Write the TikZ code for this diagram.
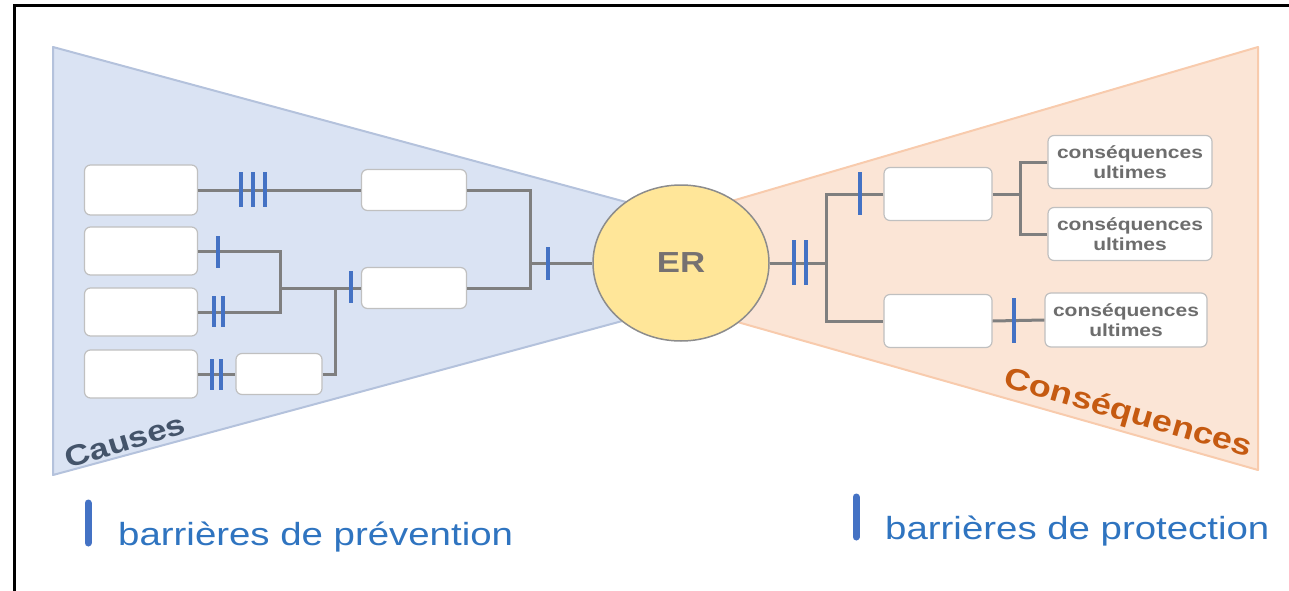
\documentclass[tikz,border=0pt]{standalone}
\usepackage{fontspec}
\setmainfont[FakeStretch=1.2]{Liberation Sans}
\usetikzlibrary{shapes.geometric}
\definecolor{causefill}{HTML}{DAE3F3}
\definecolor{causeline}{HTML}{B4C2DC}
\definecolor{consfill}{HTML}{FBE5D6}
\definecolor{consline}{HTML}{F8CBAD}
\definecolor{erfill}{HTML}{FFE699}
\definecolor{erline}{HTML}{8C8C8C}
\definecolor{boxline}{HTML}{C0C0C0}
\definecolor{connc}{HTML}{7F7F7F}
\definecolor{barc}{HTML}{4472C4}
\definecolor{legc}{HTML}{2F74C0}
\definecolor{causetxt}{HTML}{44546A}
\definecolor{constxt}{HTML}{C55A11}
\definecolor{ertxt}{HTML}{767171}
\definecolor{boxtxt}{HTML}{6D6D6D}
\tikzset{
  box/.style={draw=boxline, fill=white, rounded corners=6pt, line width=1.2pt, inner sep=0pt, align=center,
    font=\bfseries\fontsize{17.5}{20}\selectfont, text=boxtxt},
  conn/.style={draw=connc, line width=3pt},
  barmark/.style={draw=barc, line width=3.5pt},
  legbar/.style={draw=barc, line width=7pt, line cap=round},
  legtext/.style={anchor=base west, text=legc, font=\fontsize{32}{38}\selectfont, inner sep=0pt},
}
\begin{document}
\begin{tikzpicture}[x=1pt,y=-1pt]
\useasboundingbox (0,0) rectangle (1289,591);
% frame
\draw[line width=3pt] (14,591) -- (14,6) -- (1289,6);
% wedges
\filldraw[fill=causefill, draw=causeline, line width=2pt, line join=round] (53,47) -- (700,222) -- (700,300) -- (53,475) -- cycle;
\filldraw[fill=consfill, draw=consline, line width=2pt, line join=round] (1258,47) -- (660,222) -- (660,300) -- (1258,470) -- cycle;
% event
\node[ellipse, draw=erline, line width=1.5pt, fill=erfill, minimum width=176pt, minimum height=156pt, inner sep=0pt,
  font=\bfseries\fontsize{29}{32}\selectfont, text=ertxt] (ER) at (681,263) {ER};
% cause boxes
\node[box, minimum width=113pt, minimum height=50pt] (L1) at (141,190) {};
\node[box, minimum width=113pt, minimum height=48pt] (L2) at (141,251) {};
\node[box, minimum width=113pt, minimum height=48pt] (L3) at (141,312) {};
\node[box, minimum width=113pt, minimum height=48pt] (L4) at (141,374) {};
\node[box, minimum width=105pt, minimum height=41pt] (M1) at (414,190) {};
\node[box, minimum width=105pt, minimum height=41pt] (M2) at (414,288) {};
\node[box, minimum width=86pt, minimum height=41pt] (S) at (279,374) {};
% consequence boxes
\node[box, minimum width=108pt, minimum height=53pt] (R1) at (938,194) {};
\node[box, minimum width=108pt, minimum height=53pt] (R2) at (938,321) {};
\node[box, minimum width=164pt, minimum height=53pt] (C1) at (1130,162) {conséquences\\ultimes};
\node[box, minimum width=164pt, minimum height=53pt] (C2) at (1130,234) {conséquences\\ultimes};
\node[box, minimum width=162pt, minimum height=54pt] (C3) at (1126,320) {conséquences\\ultimes};
% junctions
\coordinate (J1) at (530,263);
\coordinate (J2) at (280,288);
\coordinate (J3) at (335,288);
\coordinate (J4) at (826,263);
\coordinate (J5) at (1020,194);
% connectors
\draw[conn] (L1.east) -- (M1.west);
\draw[conn] (M1.east) -| (J1) |- (M2.east);
\draw[conn] (J1) -- (ER.west);
\draw[conn] (L2.east) -| (J2) |- (L3.east);
\draw[conn] (J2) -- (M2.west);
\draw[conn] (L4.east) -- (S.west);
\draw[conn] (S.east) -| (J3);
\draw[conn] (ER.east) -- (J4);
\draw[conn] (R1.west) -| (J4) |- (R2.west);
\draw[conn] (R1.east) -- (J5);
\draw[conn] (C1.west) -| (J5) |- (C2.west);
\draw[conn] (R2.east) -- (C3.west);
% barriers
\foreach \x in {241,253,265} \draw[barmark] (\x,172) -- (\x,207);
\draw[barmark] (218,236) -- (218,268);
\foreach \x in {214,223} \draw[barmark] (\x,296) -- (\x,327);
\foreach \x in {212,221} \draw[barmark] (\x,359) -- (\x,390);
\draw[barmark] (351,271) -- (351,303);
\draw[barmark] (548,247) -- (548,280);
\foreach \x in {794,806} \draw[barmark] (\x,240) -- (\x,285);
\draw[barmark] (860,172) -- (860,215);
\draw[barmark] (1014,298) -- (1014,343);
% wedge labels
\node[text=causetxt, font=\bfseries\fontsize{29}{32}\selectfont, rotate=17] (causes) at (125,441) {Causes};
\node[text=constxt, font=\bfseries\fontsize{30}{34}\selectfont, rotate=-16] (cons) at (1128,414) {Conséquences};
% legend
\draw[legbar] (88,503) -- (88,543);
\node[legtext] (prev) at (118,545) {barrières de prévention};
\draw[legbar] (856,497) -- (856,537);
\node[legtext] (prot) at (885,539) {barrières de protection};
\end{tikzpicture}
\end{document}
